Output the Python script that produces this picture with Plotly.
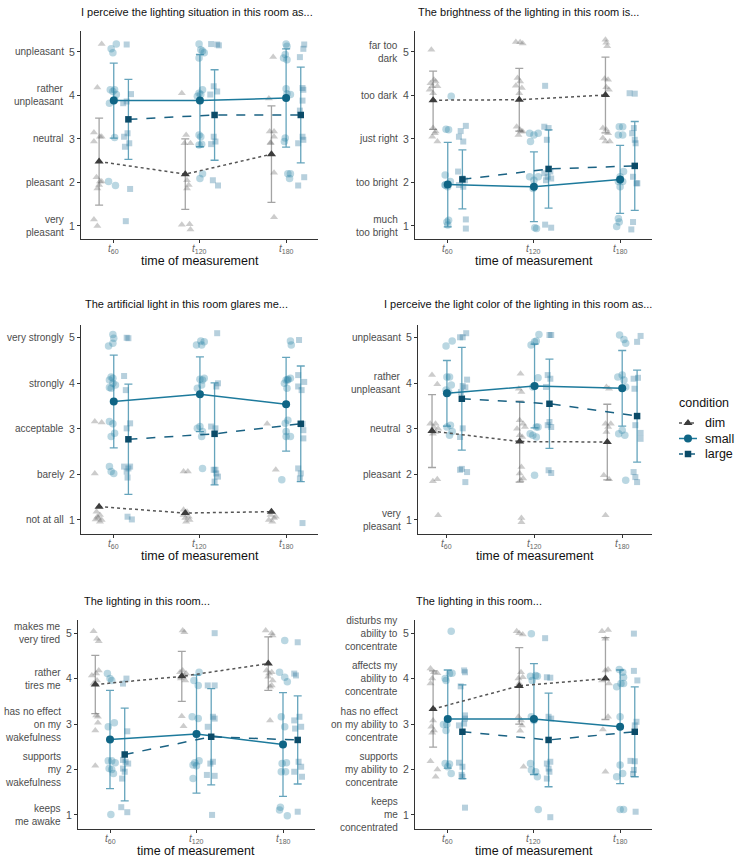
import plotly.graph_objects as go

# ---------------- data ----------------
times = [1, 2, 3]
time_labels = ["<i>t</i><sub>60</sub>", "<i>t</i><sub>120</sub>", "<i>t</i><sub>180</sub>"]
conditions = ["dim", "small", "large"]

titles = [
    "I perceive the lighting situation in this room as...",
    "The brightness of the lighting in this room is...",
    "The artificial light in this room glares me...",
    "I perceive the light color of the lighting in this room as...",
    "The lighting in this room...",
    "The lighting in this room...",
]

p1_labels = ["very<br>pleasant", "pleasant", "neutral", "rather<br>unpleasant", "unpleasant"]
p2_labels = ["much<br>too bright", "too bright", "just right", "too dark", "far too<br>dark"]
p3_labels = ["not at all", "barely", "acceptable", "strongly", "very strongly"]
p4_labels = ["very<br>pleasant", "pleasant", "neutral", "rather<br>unpleasant", "unpleasant"]
p5_labels = ["keeps<br>me awake", "supports<br>my<br>wakefulness", "has no effect<br>on my<br>wakefulness",
             "rather<br>tires me", "makes me<br>very tired"]
p6_labels = ["keeps<br>me<br>concentrated", "supports<br>my ability to<br>concentrate",
             "has no effect<br>on my ability to<br>concentrate", "affects my<br>ability to<br>concentrate",
             "disturbs my<br>ability to<br>concentrate"]

# means and SDs (t60, t120, t180)
p1_dim_mean, p1_dim_sd = [2.48, 2.19, 2.65], [1.00, 0.81, 1.11]
p1_small_mean, p1_small_sd = [3.88, 3.88, 3.94], [0.86, 1.06, 1.13]
p1_large_mean, p1_large_sd = [3.45, 3.55, 3.55], [0.92, 1.04, 1.10]

p2_dim_mean, p2_dim_sd = [3.89, 3.90, 4.01], [0.67, 0.72, 0.87]
p2_small_mean, p2_small_sd = [1.95, 1.90, 2.07], [0.97, 0.80, 0.78]
p2_large_mean, p2_large_sd = [2.07, 2.31, 2.38], [0.68, 0.90, 1.02]

p3_dim_mean, p3_dim_sd = [1.29, 1.15, 1.18], None
p3_small_mean, p3_small_sd = [3.60, 3.76, 3.54], [1.02, 0.82, 1.03]
p3_large_mean, p3_large_sd = [2.77, 2.89, 3.11], [1.21, 1.12, 1.27]

p4_dim_mean, p4_dim_sd = [2.95, 2.72, 2.71], [0.80, 0.89, 0.83]
p4_small_mean, p4_small_sd = [3.78, 3.94, 3.89], [0.72, 0.92, 0.83]
p4_large_mean, p4_large_sd = [3.66, 3.55, 3.28], [1.13, 0.98, 1.01]

p5_dim_mean, p5_dim_sd = [3.87, 4.05, 4.33], [0.64, 0.55, 0.59]
p5_small_mean, p5_small_sd = [2.66, 2.78, 2.55], [1.08, 1.30, 1.14]
p5_large_mean, p5_large_sd = [2.33, 2.72, 2.65], [1.02, 1.06, 0.97]

p6_dim_mean, p6_dim_sd = [3.33, 3.84, 4.00], [0.84, 0.84, 0.90]
p6_small_mean, p6_small_sd = [3.11, 3.11, 2.94], [1.08, 1.22, 1.25]
p6_large_mean, p6_large_sd = [2.83, 2.65, 2.83], [1.03, 1.03, 0.99]

# raw (jittered) responses: (x, y)
p1_dim_pts = [(0.86, 5.18), (0.81, 4.18), (0.77, 3.15), (0.84, 3.05), (0.77, 2.94), (0.86, 3.05), (0.80, 2.12),
              (0.84, 2.02), (0.81, 1.86), (0.86, 2.02), (0.83, 1.94), (0.77, 1.15), (0.81, 1.0),
              (1.79, 4.05), (1.84, 3.09), (1.89, 2.9), (1.82, 2.9), (1.83, 2.2), (1.85, 2.05), (1.87, 1.94),
              (1.85, 1.86), (1.79, 1.03), (1.88, 1.04), (1.89, 0.92),
              (2.85, 4.88), (2.80, 3.93), (2.81, 3.17), (2.86, 3.17), (2.82, 2.92), (2.86, 3.05), (2.82, 2.9),
              (2.86, 2.22), (2.86, 1.2)]
p1_small_pts = [(1.03, 5.18), (0.97, 5.07), (0.99, 4.98), (0.96, 4.13), (0.99, 4.09), (1.01, 4.13), (1.03, 4.02),
                (0.95, 3.82), (1.01, 3.9), (1.01, 3.03), (0.94, 2.02), (1.02, 1.93),
                (1.99, 5.18), (2.01, 5.05), (2.03, 5.02), (2.05, 4.98), (1.99, 4.86), (2.03, 4.13), (1.99, 4.05),
                (2.01, 4.02), (1.97, 3.98), (1.99, 3.09), (2.01, 3.05), (2.02, 2.88), (1.99, 2.86), (2.03, 2.2),
                (2.0, 2.09),
                (3.0, 5.18), (3.01, 5.13), (2.99, 4.94), (2.97, 4.86), (3.01, 4.82), (3.0, 4.15), (3.01, 4.04),
                (3.05, 4.02), (2.99, 3.02), (2.98, 2.94), (3.02, 2.2), (3.05, 2.2), (3.04, 2.09)]
p1_large_pts = [(1.15, 5.17), (1.2, 4.03), (1.15, 3.86), (1.11, 3.82), (1.16, 3.13), (1.12, 3.05), (1.13, 2.82),
                (1.18, 2.9), (1.19, 1.85), (1.14, 1.11),
                (2.13, 5.18), (2.2, 5.17), (2.22, 5.15), (2.16, 4.21), (2.2, 4.09), (2.12, 4.02), (2.16, 3.05),
                (2.13, 2.88), (2.18, 2.94), (2.15, 2.05), (2.21, 1.93),
                (3.21, 5.17), (3.2, 5.07), (3.16, 4.88), (3.19, 4.17), (3.2, 4.13), (3.19, 3.88), (3.16, 3.65),
                (3.19, 3.05), (3.2, 2.98), (3.14, 2.9), (3.21, 2.12), (3.14, 1.93)]

p2_dim_pts = [(0.81, 5.05), (0.84, 4.36), (0.8, 4.28), (0.82, 4.21), (0.86, 4.32), (0.79, 4.13), (0.88, 4.21),
              (0.83, 4.05), (0.83, 3.25), (0.86, 3.17), (0.85, 3.13), (0.82, 3.05), (0.88, 2.94),
              (1.79, 5.23), (1.84, 5.22), (1.87, 5.19), (1.81, 4.4), (1.84, 4.32), (1.79, 4.22), (1.86, 4.17),
              (1.83, 4.05), (1.8, 3.28), (1.84, 3.21), (1.87, 3.17), (1.82, 3.09), (1.85, 3.17),
              (2.83, 5.28), (2.84, 5.21), (2.85, 5.13), (2.82, 4.38), (2.86, 4.36), (2.84, 4.19), (2.87, 4.13),
              (2.8, 3.25), (2.84, 3.21), (2.86, 3.13), (2.8, 3.02), (2.83, 2.94), (2.88, 2.94)]
p2_small_pts = [(1.04, 3.98), (0.98, 3.22), (1.01, 3.21), (0.97, 2.17), (0.97, 1.94), (1.0, 1.9), (1.03, 2.02),
                (0.99, 1.09), (1.01, 1.13), (1.0, 1.02), (0.97, 1.94),
                (1.95, 3.13), (2.0, 3.09), (2.05, 3.13), (1.96, 2.94), (1.95, 2.13), (2.0, 2.05), (2.05, 2.13),
                (1.99, 1.86), (2.01, 0.96), (2.03, 0.94),
                (2.99, 3.28), (3.03, 3.28), (2.98, 3.09), (3.03, 3.09), (3.04, 2.25), (3.0, 2.13), (2.98, 2.02),
                (3.03, 2.02), (3.0, 1.9), (2.98, 1.17), (2.96, 0.99), (2.99, 1.09)]
p2_large_pts = [(1.21, 3.3), (1.15, 3.18), (1.13, 3.05), (1.18, 2.94), (1.12, 2.25), (1.17, 2.09), (1.2, 2.05),
                (1.18, 1.9), (1.13, 1.94), (1.21, 1.15), (1.21, 0.94),
                (2.13, 4.22), (2.12, 3.28), (2.17, 3.25), (2.15, 2.98), (2.12, 2.21), (2.19, 2.25), (2.16, 2.13),
                (2.14, 2.05), (2.2, 2.09), (2.13, 1.03), (2.2, 0.96),
                (3.11, 4.05), (3.17, 4.04), (3.16, 3.25), (3.14, 3.13), (3.17, 2.98), (3.18, 2.9), (3.15, 2.13),
                (3.2, 1.98), (3.19, 1.98), (3.15, 1.09), (3.13, 0.92)]

p3_dim_pts = [(0.78, 3.16), (0.86, 3.14), (0.78, 2.02), (0.8, 1.18), (0.84, 1.11), (0.82, 1.04), (0.79, 1.01),
              (0.86, 1.0), (0.84, 0.96), (0.81, 1.07),
              (1.81, 2.06), (1.86, 2.06), (1.81, 1.22), (1.85, 1.18), (1.87, 1.07), (1.83, 1.04), (1.81, 1.11),
              (1.88, 1.0), (1.84, 0.96),
              (2.78, 3.11), (2.88, 2.1), (2.82, 1.11), (2.86, 1.04), (2.8, 1.0), (2.84, 0.96), (2.88, 1.07)]
p3_small_pts = [(0.99, 5.07), (1.0, 4.99), (0.94, 4.82), (0.99, 4.88), (0.97, 4.14), (0.95, 4.07), (0.99, 4.0),
                (1.02, 3.96), (0.95, 3.91), (0.97, 3.89), (0.99, 4.11), (0.95, 3.16), (0.99, 3.11), (1.01, 2.9),
                (0.97, 2.83), (0.95, 2.17), (0.97, 2.06), (1.0, 2.02),
                (2.01, 4.93), (1.96, 4.84), (2.05, 4.91), (2.02, 4.84), (2.0, 4.09), (2.03, 4.07), (2.05, 4.11),
                (1.97, 3.89), (2.02, 3.96), (2.0, 3.05), (1.97, 3.01), (2.03, 2.94), (2.02, 2.83), (2.03, 2.13),
                (3.05, 4.93), (3.06, 4.84), (3.02, 4.09), (3.0, 4.07), (3.05, 4.11), (2.98, 4.0), (3.01, 3.89),
                (3.02, 3.19), (2.99, 3.12), (3.0, 2.94), (3.05, 2.83), (3.0, 2.83), (2.95, 1.88), (3.02, 4.07)]
p3_large_pts = [(1.15, 5.0), (1.17, 4.99), (1.12, 4.16), (1.14, 3.85), (1.15, 3.01), (1.19, 3.12), (1.12, 2.17),
                (1.17, 2.13), (1.15, 2.06), (1.19, 2.17), (1.16, 1.93), (1.16, 1.07), (1.21, 1.01),
                (2.2, 5.1), (2.21, 4.0), (2.19, 3.93), (2.13, 3.05), (2.18, 3.01), (2.16, 2.1), (2.19, 2.02),
                (2.21, 1.95), (2.17, 1.84), (2.18, 2.1),
                (3.15, 4.95), (3.14, 4.18), (3.21, 4.03), (3.18, 3.85), (3.14, 3.93), (3.19, 3.11), (3.2, 2.97),
                (3.2, 2.79), (3.14, 2.13), (3.17, 2.02), (3.16, 1.91), (3.19, 0.93)]

p4_dim_pts = [(0.83, 4.18), (0.89, 3.98), (0.81, 3.11), (0.85, 3.04), (0.87, 3.11), (0.83, 2.97), (0.9, 3.0),
              (0.84, 2.89), (0.87, 2.93), (0.84, 1.85), (0.89, 1.89), (0.9, 1.1),
              (1.84, 4.21), (1.82, 3.88), (1.85, 3.81), (1.83, 3.19), (1.87, 3.11), (1.8, 3.0), (1.89, 3.04),
              (1.83, 2.86), (1.86, 2.82), (1.85, 2.16), (1.83, 2.02), (1.87, 1.91), (1.84, 1.87), (1.85, 1.04),
              (1.85, 0.95),
              (2.82, 3.92), (2.85, 3.88), (2.81, 3.11), (2.84, 3.04), (2.87, 3.11), (2.82, 2.93), (2.79, 1.98),
              (2.85, 1.89), (2.81, 1.1)]
p4_small_pts = [(0.99, 4.82), (1.06, 4.93), (1.0, 4.14), (1.03, 4.14), (1.05, 3.96), (0.99, 3.85), (1.02, 3.81),
                (1.0, 3.04), (1.04, 3.08), (1.03, 2.86), (1.06, 2.94),
                (1.96, 4.84), (2.0, 4.91), (2.05, 5.07), (2.02, 4.93), (2.04, 4.12), (1.98, 3.92), (2.02, 3.04),
                (2.04, 3.04), (1.95, 2.89), (1.98, 2.86), (2.02, 2.82), (2.0, 1.98),
                (2.97, 5.06), (3.02, 4.96), (3.04, 4.88), (2.95, 4.14), (3.0, 4.18), (3.02, 4.07), (3.04, 3.92),
                (2.96, 2.89), (3.0, 2.97), (3.03, 2.86), (3.04, 1.87)]
p4_large_pts = [(1.15, 5.01), (1.18, 5.01), (1.22, 5.1), (1.23, 4.08), (1.18, 3.94), (1.21, 3.91), (1.16, 3.81),
                (1.18, 3.01), (1.15, 2.82), (1.15, 2.1), (1.17, 2.12), (1.23, 2.05), (1.21, 1.83),
                (2.17, 5.06), (2.19, 5.06), (2.15, 4.18), (2.18, 4.1), (2.13, 3.92), (2.17, 3.15), (2.15, 3.08),
                (2.19, 3.04), (2.16, 2.09), (2.19, 2.03),
                (3.21, 5.04), (3.17, 4.91), (3.13, 4.1), (3.18, 4.12), (3.14, 3.88), (3.15, 3.08), (3.21, 2.91),
                (3.21, 2.78), (3.13, 2.05), (3.15, 1.94), (3.17, 1.83)]

p5_dim_pts = [(0.81, 5.04), (0.85, 4.88), (0.87, 4.82), (0.79, 4.07), (0.84, 4.11), (0.87, 4.18), (0.81, 3.89),
              (0.85, 3.96), (0.84, 3.19), (0.86, 3.16), (0.86, 3.03), (0.83, 2.86), (0.83, 2.08),
              (1.84, 5.06), (1.86, 5.02), (1.81, 4.14), (1.84, 4.18), (1.86, 4.07), (1.88, 4.11), (1.82, 4.0),
              (1.87, 3.96), (1.83, 3.17), (1.85, 2.95),
              (2.8, 5.06), (2.87, 5.0), (2.88, 4.95), (2.81, 4.18), (2.84, 4.11), (2.87, 4.14), (2.83, 4.04),
              (2.88, 3.96), (2.85, 3.82), (2.87, 3.85), (2.85, 3.08)]
p5_small_pts = [(0.97, 4.11), (1.0, 4.0), (1.02, 3.96), (0.98, 2.94), (1.05, 3.03), (0.98, 2.19), (1.02, 2.19),
                (1.06, 2.15), (0.99, 2.02), (1.02, 2.0), (1.04, 1.91), (1.01, 1.01),
                (2.03, 4.14), (1.97, 3.96), (2.02, 3.85), (1.95, 3.16), (2.02, 3.12), (2.0, 2.78), (1.98, 2.15),
                (2.03, 2.19), (1.96, 2.1), (2.0, 2.08), (1.96, 1.8),
                (3.02, 4.84), (2.96, 4.14), (3.02, 4.03), (3.05, 3.93), (2.98, 3.16), (3.02, 2.94), (2.99, 2.13),
                (3.04, 2.15), (2.98, 1.95), (3.03, 1.95), (2.97, 1.17), (2.96, 1.11), (3.05, 0.98)]
p5_large_pts = [(1.19, 4.0), (1.15, 3.89), (1.2, 2.84), (1.15, 2.21), (1.18, 2.17), (1.21, 2.13), (1.15, 2.02),
                (1.17, 1.95), (1.14, 1.8), (1.13, 1.17), (1.2, 1.06),
                (2.21, 5.0), (2.13, 3.85), (2.21, 3.85), (2.13, 2.94), (2.19, 3.16), (2.21, 3.12), (2.16, 2.13),
                (2.19, 2.17), (2.12, 1.88), (2.21, 1.86), (2.18, 1.0),
                (3.17, 4.8), (3.13, 4.11), (3.15, 4.07), (3.13, 3.08), (3.19, 3.16), (3.21, 2.94), (3.14, 2.9),
                (3.18, 2.17), (3.21, 2.06), (3.13, 1.95), (3.22, 1.84), (3.17, 1.07)]

p6_dim_pts = [(0.8, 4.22), (0.84, 4.14), (0.88, 4.12), (0.82, 4.0), (0.8, 3.89), (0.83, 3.08), (0.81, 2.94),
              (0.84, 2.86), (0.82, 2.81), (0.8, 2.18), (0.88, 2.0), (0.86, 1.84),
              (1.8, 5.04), (1.83, 5.0), (1.87, 4.97), (1.85, 4.14), (1.87, 4.03), (1.82, 4.0), (1.83, 3.89),
              (1.82, 3.16), (1.85, 3.08), (1.86, 2.97), (1.84, 2.85), (1.88, 2.06),
              (2.79, 5.04), (2.86, 5.07), (2.83, 4.88), (2.83, 4.18), (2.86, 4.2), (2.79, 3.96), (2.87, 3.89),
              (2.86, 3.16), (2.8, 2.88), (2.83, 1.95)]
p6_small_pts = [(1.04, 5.04), (0.97, 4.0), (1.02, 4.11), (1.05, 4.12), (0.98, 3.96), (0.95, 2.99), (0.99, 2.99),
                (0.98, 2.86), (0.97, 2.13), (1.02, 2.12), (1.0, 2.06), (1.04, 1.91),
                (1.97, 4.99), (1.96, 4.05), (2.02, 4.07), (2.04, 4.05), (1.98, 3.96), (1.97, 3.16), (2.0, 3.08),
                (1.96, 2.13), (1.97, 1.99), (2.02, 1.95), (2.04, 1.84), (2.05, 1.12),
                (2.99, 4.2), (3.03, 4.14), (3.04, 4.03), (2.96, 3.82), (3.01, 3.89), (3.0, 3.16), (3.04, 3.89),
                (2.96, 1.84), (3.0, 2.1), (3.03, 1.91), (3.0, 1.12), (3.04, 1.12)]
p6_large_pts = [(1.19, 4.18), (1.2, 4.14), (1.15, 3.83), (1.2, 3.19), (1.2, 3.12), (1.13, 2.97), (1.19, 3.01),
                (1.13, 2.15), (1.17, 2.06), (1.16, 1.88), (1.17, 1.84), (1.2, 1.16),
                (2.13, 4.89), (2.15, 4.03), (2.19, 4.02), (2.17, 3.16), (2.2, 3.12), (2.15, 2.13), (2.19, 2.17),
                (2.17, 2.02), (2.15, 1.8), (2.18, 1.95), (2.19, 0.95),
                (3.16, 4.99), (3.16, 4.17), (3.2, 3.96), (3.19, 3.05), (3.17, 2.97), (3.12, 2.19), (3.17, 2.18),
                (3.16, 1.99), (3.15, 1.9), (3.18, 1.07)]

panel_labels = [p1_labels, p2_labels, p3_labels, p4_labels, p5_labels, p6_labels]
panel_data = [
    {"dim": (p1_dim_pts, p1_dim_mean, p1_dim_sd), "small": (p1_small_pts, p1_small_mean, p1_small_sd),
     "large": (p1_large_pts, p1_large_mean, p1_large_sd)},
    {"dim": (p2_dim_pts, p2_dim_mean, p2_dim_sd), "small": (p2_small_pts, p2_small_mean, p2_small_sd),
     "large": (p2_large_pts, p2_large_mean, p2_large_sd)},
    {"dim": (p3_dim_pts, p3_dim_mean, p3_dim_sd), "small": (p3_small_pts, p3_small_mean, p3_small_sd),
     "large": (p3_large_pts, p3_large_mean, p3_large_sd)},
    {"dim": (p4_dim_pts, p4_dim_mean, p4_dim_sd), "small": (p4_small_pts, p4_small_mean, p4_small_sd),
     "large": (p4_large_pts, p4_large_mean, p4_large_sd)},
    {"dim": (p5_dim_pts, p5_dim_mean, p5_dim_sd), "small": (p5_small_pts, p5_small_mean, p5_small_sd),
     "large": (p5_large_pts, p5_large_mean, p5_large_sd)},
    {"dim": (p6_dim_pts, p6_dim_mean, p6_dim_sd), "small": (p6_small_pts, p6_small_mean, p6_small_sd),
     "large": (p6_large_pts, p6_large_mean, p6_large_sd)},
]

# ---------------- styling / layout ----------------
W, H = 738, 862
FONT = "Liberation Sans, Arial, sans-serif"
GRAY_TXT = "#4D4D4D"

# panel boxes in pixels: left, right, top, bottom
panel_px = [(81, 318, 31, 239), (415, 652, 31, 239),
            (81, 318, 325, 534), (418, 652, 325, 534),
            (78, 315, 620, 829), (415, 652, 620, 829)]
yranges = [[0.70, 5.48], [0.70, 5.48], [0.69, 5.28], [0.69, 5.28], [0.69, 5.29], [0.69, 5.29]]
xranges = [[0.62, 3.37], [0.62, 3.37], [0.62, 3.37], [0.67, 3.34], [0.63, 3.37], [0.62, 3.37]]
title_px = [(79, 12), (416, 12), (83, 304), (382, 304), (82, 601), (414, 601)]
dodge = {"dim": -0.17, "small": 0.0, "large": 0.17}

style = {
    "dim": dict(raw_sym="triangle-up", raw_col="rgba(110,110,110,0.35)", raw_size=7,
                mean_col="#3C3C3C", line_col="#555555", dash="dot", mean_size=8,
                err_col="rgba(90,90,90,0.55)"),
    "small": dict(raw_sym="circle", raw_col="rgba(40,130,165,0.32)", raw_size=7.5,
                  mean_col="#0F6585", line_col="#1D7A9C", dash="solid", mean_size=8,
                  err_col="rgba(35,125,160,0.7)"),
    "large": dict(raw_sym="square", raw_col="rgba(30,110,150,0.32)", raw_size=6,
                  mean_col="#0B4B68", line_col="#1A6283", dash="dash", mean_size=6.5,
                  err_col="rgba(35,125,160,0.7)"),
}
mean_sym = {"dim": "triangle-up", "small": "circle", "large": "square"}

fig = go.Figure()
layout = dict(width=W, height=H, margin=dict(l=0, r=0, t=0, b=0),
              plot_bgcolor="white", paper_bgcolor="white",
              font=dict(family=FONT, color=GRAY_TXT, size=10),
              showlegend=False)
annotations = []

for i in range(6):
    n = i + 1
    xa = "xaxis" if n == 1 else f"xaxis{n}"
    ya = "yaxis" if n == 1 else f"yaxis{n}"
    xr = "x" if n == 1 else f"x{n}"
    yr = "y" if n == 1 else f"y{n}"
    L, R, T, B = panel_px[i]
    layout[xa] = dict(domain=[L / W, R / W], range=xranges[i], anchor=yr,
                      tickvals=times, showticklabels=False, showgrid=False, zeroline=False,
                      showline=True, linecolor="#333333", linewidth=1.1,
                      ticks="outside", ticklen=3, tickcolor="#333333")
    layout[ya] = dict(domain=[1 - B / H, 1 - T / H], range=yranges[i], anchor=xr,
                      tickvals=[1, 2, 3, 4, 5], ticktext=["1", "2", "3", "4", "5"],
                      showgrid=False, zeroline=False,
                      showline=True, linecolor="#333333", linewidth=1.1,
                      ticks="outside", ticklen=3, tickcolor="#333333",
                      tickfont=dict(size=10.5, color=GRAY_TXT, family=FONT))
    # x tick labels (t60, t120, t180)
    for t, lab in zip(times, time_labels):
        annotations.append(dict(x=t, xref=xr, y=1 - (B + 10) / H, yref="paper", text=lab,
                                showarrow=False, xanchor="center", yanchor="middle",
                                font=dict(size=10, color="#666666", family=FONT)))
    # category labels next to the numeric ticks
    for v, lab in zip([1, 2, 3, 4, 5], panel_labels[i]):
        annotations.append(dict(x=(L - 15) / W, xref="paper", y=v, yref=yr, text=lab,
                                showarrow=False, xanchor="right", yanchor="middle", align="right",
                                font=dict(size=10, color=GRAY_TXT, family=FONT)))
    # panel title
    tx, ty = title_px[i]
    annotations.append(dict(x=tx / W, y=1 - ty / H, xref="paper", yref="paper", text=titles[i],
                            showarrow=False, xanchor="left", yanchor="middle",
                            font=dict(size=11, color="#111111", family=FONT)))
    # x axis title
    annotations.append(dict(x=(L + R) / 2 / W, y=1 - (B + 22) / H, xref="paper", yref="paper",
                            text="time of measurement", showarrow=False, xanchor="center",
                            yanchor="middle", font=dict(size=12.5, color="#111111", family=FONT)))

    data = panel_data[i]
    # raw points
    for c in conditions:
        pts, _, _ = data[c]
        s = style[c]
        fig.add_trace(go.Scatter(x=[p[0] for p in pts], y=[p[1] for p in pts], mode="markers",
                                 xaxis=xr, yaxis=yr, showlegend=False, hoverinfo="skip",
                                 marker=dict(symbol=s["raw_sym"], size=s["raw_size"], color=s["raw_col"],
                                             line=dict(width=0))))
    # error bars
    for c in conditions:
        _, mean, sd = data[c]
        if sd is None:
            continue
        s = style[c]
        fig.add_trace(go.Scatter(x=[t + dodge[c] for t in times], y=mean, mode="markers",
                                 xaxis=xr, yaxis=yr, showlegend=False, hoverinfo="skip",
                                 marker=dict(size=1, color="rgba(0,0,0,0)"),
                                 error_y=dict(type="data", array=sd, symmetric=True, color=s["err_col"],
                                              thickness=1.3, width=4)))
    # means + lines
    for c in conditions:
        _, mean, _ = data[c]
        s = style[c]
        fig.add_trace(go.Scatter(x=[t + dodge[c] for t in times], y=mean, mode="lines+markers",
                                 xaxis=xr, yaxis=yr, name=c, showlegend=False,
                                 line=dict(color=s["line_col"], dash=s["dash"], width=1.5),
                                 marker=dict(symbol=mean_sym[c], size=s["mean_size"], color=s["mean_col"])))

# ---------------- legend (drawn on its own pixel-scaled axis) ----------------
LEG_L, LEG_R, LEG_T, LEG_B = 670, 738, 392, 466
layout["xaxis7"] = dict(domain=[LEG_L / W, LEG_R / W], range=[LEG_L, LEG_R], visible=False, fixedrange=True)
layout["yaxis7"] = dict(domain=[1 - LEG_B / H, 1 - LEG_T / H], range=[LEG_B, LEG_T], visible=False,
                        fixedrange=True, anchor="x7")
legend_rows = {"dim": 423, "small": 438.5, "large": 454}
key_x0, key_x1, key_mid, text_x = 679, 697, 688, 703
annotations.append(dict(x=677, y=403, xref="x7", yref="y7", text="condition", showarrow=False,
                        xanchor="left", yanchor="middle", font=dict(size=12.5, color="#111111", family=FONT)))
for c in conditions:
    s = style[c]
    ry = legend_rows[c]
    fig.add_trace(go.Scatter(x=[key_x0, key_mid, key_x1], y=[ry, ry, ry], mode="lines",
                             xaxis="x7", yaxis="y7", showlegend=False, hoverinfo="skip",
                             line=dict(color=s["line_col"], dash=s["dash"] if c != "large" else "4px,2px",
                                       width=1.5)))
    fig.add_trace(go.Scatter(x=[key_mid], y=[ry], mode="markers", xaxis="x7", yaxis="y7",
                             showlegend=False, hoverinfo="skip",
                             marker=dict(symbol=mean_sym[c], size=s["mean_size"], color=s["mean_col"])))
    annotations.append(dict(x=text_x, y=ry, xref="x7", yref="y7", text=c, showarrow=False,
                            xanchor="left", yanchor="middle",
                            font=dict(size=12.5, color="#111111", family=FONT)))

layout["annotations"] = annotations
fig.update_layout(**layout)
fig.write_html("out.html", config={"displayModeBar": False},
               post_script="document.body.style.margin='0px';document.body.style.overflow='hidden';")
